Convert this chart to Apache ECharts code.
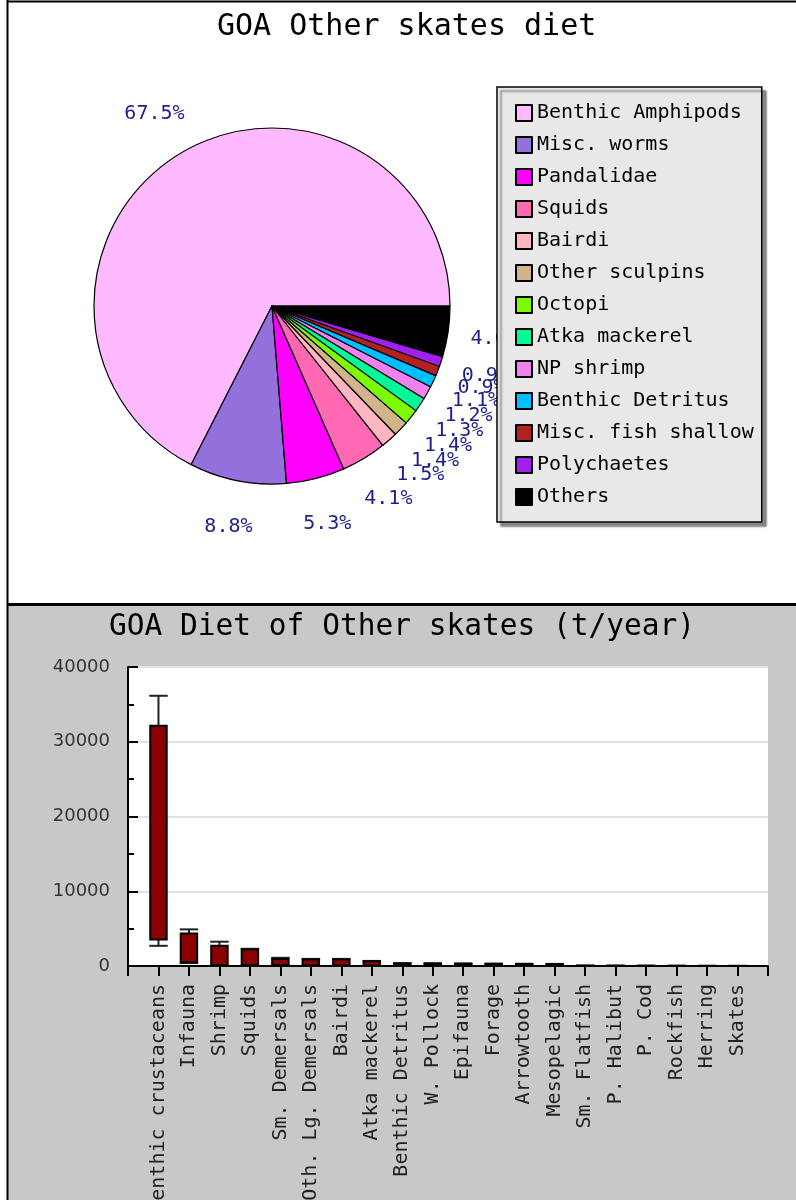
<!DOCTYPE html>
<html>
<head>
<meta charset="utf-8">
<script src="https://cdn.jsdelivr.net/npm/echarts@6/dist/echarts.min.js"></script>
<style>
  html, body { margin: 0; padding: 0; background: #fff; }
  #chart { width: 796px; height: 1200px; }
</style>
</head>
<body>
<div id="chart"></div>
<script>
// Diet composition (percent of total) for the pie
const dietNames = [
  'Benthic Amphipods', 'Misc. worms', 'Pandalidae', 'Squids', 'Bairdi',
  'Other sculpins', 'Octopi', 'Atka mackerel', 'NP shrimp', 'Benthic Detritus',
  'Misc. fish shallow', 'Polychaetes', 'Others'
];
const dietShares = [67.5, 8.8, 5.3, 4.1, 1.5, 1.4, 1.4, 1.3, 1.2, 1.1, 0.9, 0.9, 4.6];
const dietColors = [
  '#ffb9ff', '#9370db', '#ff00ff', '#ff69b4', '#ffb6c1',
  '#d2b48c', '#7cfc00', '#00fa9a', '#ee82ee', '#00bfff',
  '#b22222', '#a020f0', '#000000'
];

// Consumption by prey group (t/year): box range and whisker range
const preyGroups = [
  'Benthic crustaceans', 'Infauna', 'Shrimp', 'Squids', 'Sm. Demersals',
  'Oth. Lg. Demersals', 'Bairdi', 'Atka mackerel', 'Benthic Detritus', 'W. Pollock',
  'Epifauna', 'Forage', 'Arrowtooth', 'Mesopelagic', 'Sm. Flatfish',
  'P. Halibut', 'P. Cod', 'Rockfish', 'Herring', 'Skates'
];
const boxLow   = [3550, 500, 150, 100, 150, 100, 100, 60, 40, 40, 30, 30, 30, 20, 5, 5, 5, 3, 2, 2];
const boxHigh  = [32150, 4350, 2700, 2200, 950, 880, 880, 620, 330, 320, 300, 280, 260, 240, 50, 40, 35, 30, 20, 15];
const errLow   = [2700, 400, 100, 60, 100, 60, 60, 40, 20, 20, 20, 20, 20, 10, 2, 2, 2, 1, 1, 1];
const errHigh  = [36150, 4900, 3250, 2300, 1100, 950, 950, 680, 380, 360, 340, 320, 300, 280, 60, 50, 45, 35, 25, 20];

const MONO = 'DejaVu Sans Mono';

const pieData = dietNames.map((name, i) => ({
  name: name,
  value: dietShares[i],
  itemStyle: { color: dietColors[i] }
}));

const boxRows = preyGroups.map((g, i) => [i + 1, boxLow[i], boxHigh[i], errLow[i], errHigh[i]]);

function renderBox(params, api) {
  const x = api.value(0);
  const lo = api.coord([x, api.value(1)]);
  const hi = api.coord([x, api.value(2)]);
  const eLo = api.coord([x, api.value(3)]);
  const eHi = api.coord([x, api.value(4)]);
  const w = api.size([1, 0])[0] * 0.54;
  const cw = w + 2;
  const cx = lo[0];
  const whisker = { stroke: '#222', lineWidth: 2 };
  return {
    type: 'group',
    children: [
      { type: 'line', shape: { x1: cx, y1: eLo[1], x2: cx, y2: eHi[1] }, style: whisker },
      { type: 'line', shape: { x1: cx - cw / 2, y1: eHi[1], x2: cx + cw / 2, y2: eHi[1] }, style: whisker },
      { type: 'line', shape: { x1: cx - cw / 2, y1: eLo[1], x2: cx + cw / 2, y2: eLo[1] }, style: whisker },
      {
        type: 'rect',
        shape: { x: cx - w / 2, y: hi[1], width: w, height: lo[1] - hi[1] },
        style: { fill: '#8b0000', stroke: '#000', lineWidth: 2 }
      }
    ]
  };
}

const chart = echarts.init(document.getElementById('chart'), null, { renderer: 'canvas' });

chart.setOption({
  animation: false,
  backgroundColor: '#ffffff',
  graphic: [
    { type: 'rect', z: -10, silent: true, shape: { x: 8, y: 604, width: 788, height: 596 }, style: { fill: '#c8c8c8' } },
    { type: 'line', silent: true, shape: { x1: 8, y1: 604.5, x2: 796, y2: 604.5 }, style: { stroke: '#000', lineWidth: 3 } },
    { type: 'line', silent: true, shape: { x1: 7.5, y1: 0, x2: 7.5, y2: 1200 }, style: { stroke: '#000', lineWidth: 2 } },
    { type: 'line', silent: true, shape: { x1: 7, y1: 1.5, x2: 796, y2: 1.5 }, style: { stroke: '#000', lineWidth: 2 } }
  ],
  title: [
    {
      text: 'GOA Other skates diet',
      left: 217, top: 12, padding: 0,
      textStyle: { fontFamily: MONO, fontSize: 30, fontWeight: 'normal', color: '#000' }
    },
    {
      text: 'GOA Diet of Other skates (t/year)',
      left: 109, top: 612, padding: 0,
      textStyle: { fontFamily: MONO, fontSize: 29.5, fontWeight: 'normal', color: '#000' }
    }
  ],
  legend: {
    orient: 'vertical',
    left: 497, top: 87,
    padding: [16, 8, 15, 18],
    backgroundColor: '#e8e8e8',
    borderColor: '#000',
    borderWidth: 1.5,
    shadowColor: 'rgba(0,0,0,0.45)',
    shadowOffsetX: 4,
    shadowOffsetY: 4,
    shadowBlur: 2,
    icon: 'rect',
    itemWidth: 16,
    itemHeight: 16,
    itemGap: 12,
    itemTextGap: 10,
    selectedMode: false,
    textStyle: { fontFamily: MONO, fontSize: 20, lineHeight: 20, color: '#000' },
    data: dietNames
  },
  grid: {
    left: 128, top: 667, width: 640, height: 299,
    outerBoundsMode: 'none',
    containLabel: false,
    show: true, backgroundColor: '#ffffff', borderWidth: 0
  },
  xAxis: {
    type: 'value', min: 0, max: 21, interval: 1,
    axisLine: { show: true, onZero: false, lineStyle: { color: '#000', width: 2 } },
    axisTick: { show: true, length: 10, lineStyle: { color: '#000', width: 2 } },
    splitLine: { show: false },
    axisLabel: {
      rotate: 90, margin: 18,
      fontFamily: MONO, fontSize: 20, color: '#222',
      formatter: v => preyGroups[v - 1] || ''
    }
  },
  yAxis: {
    type: 'value', min: 0, max: 40000, interval: 10000,
    axisLine: { show: true, lineStyle: { color: '#000', width: 2 } },
    axisTick: { show: true, inside: true, length: 10, lineStyle: { color: '#000', width: 2 } },
    minorTick: { show: true, splitNumber: 2, length: 6, lineStyle: { color: '#000', width: 2 } },
    splitLine: { show: true, lineStyle: { color: '#e2e2e2', width: 2 } },
    axisLabel: {
      margin: 18, fontFamily: 'DejaVu Sans', fontSize: 18, color: '#333',
      formatter: v => String(v)
    }
  },
  series: [
    {
      type: 'pie',
      center: [272, 306],
      radius: 178,
      startAngle: 0,
      clockwise: false,
      avoidLabelOverlap: false,
      emphasis: { disabled: true },
      itemStyle: { borderColor: '#000', borderWidth: 1.2 },
      label: {
        show: true,
        position: 'outside',
        distanceToLabelLine: 0,
        formatter: p => p.value.toFixed(1) + '%',
        fontFamily: MONO, fontSize: 20, color: '#1e1e8c'
      },
      labelLine: { show: false, length: 47, length2: 0 },
      labelLayout: { align: 'center', hideOverlap: false, moveOverlap: false },
      data: pieData
    },
    {
      type: 'custom',
      renderItem: renderBox,
      encode: { x: 0, y: [1, 2, 3, 4] },
      data: boxRows,
      z: 3
    }
  ]
});
</script>
</body>
</html>
